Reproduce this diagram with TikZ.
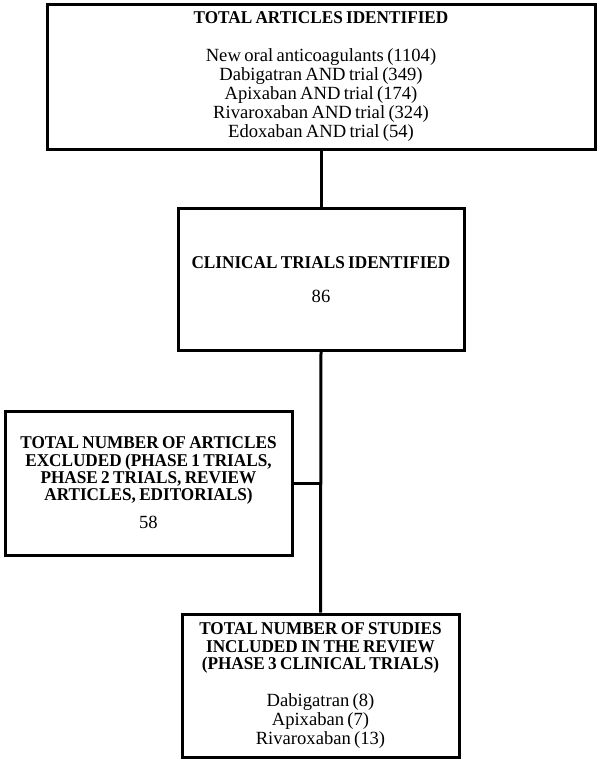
\documentclass[tikz,border=0pt]{standalone}
\usepackage{fontspec}
\setmainfont{Liberation Serif}
\newfontfamily\hdfont[FakeStretch=0.955]{Liberation Serif}
\usepackage{tikz}
\usetikzlibrary{positioning}

\newcommand{\hd}{\hdfont\fontsize{18}{17.4}\selectfont\bfseries}
\newcommand{\tx}{\fontsize{18.6}{19}\selectfont}

\begin{document}
\begin{tikzpicture}[x=1pt,y=-1pt,
        box/.style={draw, line width=3pt, inner sep=0pt, align=center},
        link/.style={line width=3pt}]
        \useasboundingbox (0,0) rectangle (600,763);
        % boxes
        \node[box, minimum width=548, minimum height=145, text width=530] (total) at (321,76.5)
            {{\hd TOTAL ARTICLES IDENTIFIED\par}\vspace{19pt}
             {\tx New oral anticoagulants (1104)\\ Dabigatran AND trial (349)\\ Apixaban AND trial (174)\\
              Rivaroxaban AND trial (324)\\ Edoxaban AND trial (54)\par}\vspace{-2pt}};
        \node[box, minimum width=286, minimum height=142, text width=276] (clinical) at (321,279.5)
            {{\hd CLINICAL TRIALS IDENTIFIED\par}\vspace{15pt}
             {\tx 86\par}};
        \node[box, minimum width=287, minimum height=144, text width=277] (excluded) at (148.5,483)
            {{\hd TOTAL NUMBER OF ARTICLES\\ EXCLUDED (PHASE 1 TRIALS,\\ PHASE 2 TRIALS, REVIEW\\ ARTICLES, EDITORIALS)\par}\vspace{9pt}
             {\tx 58\par}};
        \node[box, minimum width=277, minimum height=143, text width=267] (included) at (320.5,685.5)
            {{\hd TOTAL NUMBER OF STUDIES\\ INCLUDED IN THE REVIEW\\ (PHASE 3 CLINICAL TRIALS)\par}\vspace{17.3pt}
             {\tx Dabigatran (8)\\ Apixaban (7)\\ Rivaroxaban (13)\par}};
        % connectors
        \draw[link] (total.south) -- (clinical.north);
        \draw[link] (clinical.south) -- (included.north);
        \draw[link] (excluded.east) -- (excluded.east -| clinical.south);
    \end{tikzpicture}
\end{document}
